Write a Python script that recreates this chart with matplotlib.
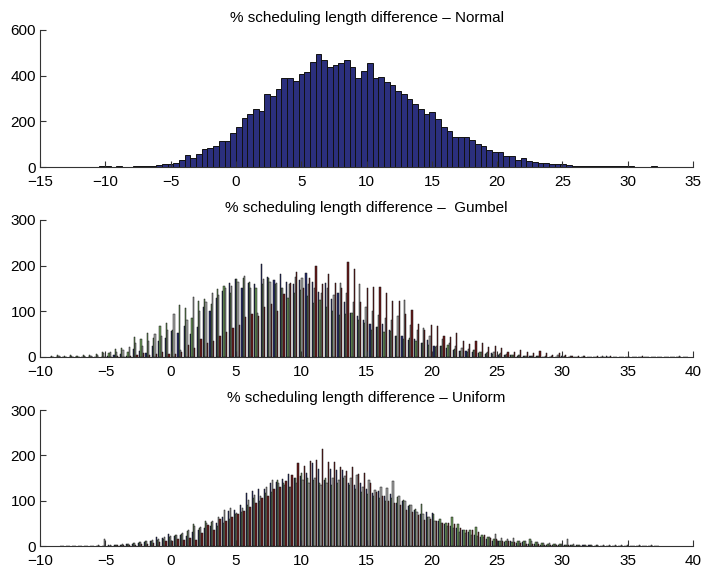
import numpy as np
import matplotlib
matplotlib.use("Agg")
import matplotlib.pyplot as plt

plt.rcParams['font.family'] = ['Liberation Sans', 'DejaVu Sans']

# --- Normal: single histogram, 100 bins ---
normal_start = -10.69
normal_width = 0.436
normal_counts = [0, 5, 5, 0, 3, 0, 2, 3, 3, 3, 6, 8, 12, 15, 18,
                 32, 52, 38, 58, 77, 84, 92, 116, 116, 148,
                 176, 215, 233, 255, 246, 319, 311, 343, 389, 389,
                 377, 409, 416, 461, 493, 467, 437, 448, 457, 467,
                 437, 389, 422, 454, 389, 396, 371, 357, 332, 319,
                 298, 277, 255, 233, 239, 210, 176, 156, 131, 131,
                 131, 119, 102, 90, 76, 64, 64, 47, 47, 29,
                 38, 26, 23, 17, 17, 12, 12, 12, 7,
                 3, 3, 3, 3, 3, 3, 3, 3, 3, 3, 3,
                 0, 0, 0, 5, 0]

# --- Gumbel: four series, 100 bins ---
gumbel_start = -9.1
gumbel_width = 0.49
gumbel_blue = [0, 0, 0, 0, 0, 0, 0, 0, 0, 2, 4, 6, 3,
               17, 13, 8, 23, 35, 42, 58, 52, 68, 50,
               65, 110, 100, 130, 145, 162, 170, 150, 163, 160,
               204, 175, 168, 182, 165, 160, 168, 183, 165, 142,
               162, 127, 140, 120, 97, 90, 82, 73, 65, 73,
               60, 47, 47, 38, 39, 30, 38, 23, 25, 20,
               16, 14, 13, 10, 8, 7, 9, 5, 5, 4,
               3, 3, 2, 2, 0, 1, 0, 2, 0, 1,
               0, 1, 0, 0, 2, 0, 0, 0, 0, 0, 0, 0, 0, 0, 0, 0, 0]
gumbel_green = [3, 4, 3, 5, 3, 4, 4, 6, 12, 8,
                18, 20, 10, 44, 40, 52, 42, 68, 75, 60,
                113, 107, 85, 123, 128, 115, 148, 155, 140, 170,
                172, 165, 150, 160, 173, 160, 150, 130, 140, 147,
                133, 118, 125, 110, 101, 92, 95, 96, 80, 74,
                59, 66, 55, 56, 45, 40, 41, 35, 30, 27,
                22, 24, 27, 18, 14, 12, 16, 10, 8, 6,
                7, 5, 4, 5, 3, 2, 2, 0, 1, 0,
                1, 0, 0, 0, 0, 0, 0, 0, 0, 0,
                0, 0, 0, 0, 0, 0, 0, 0, 0, 0]
gumbel_gray = [0, 2, 0, 2, 1, 2, 3, 5, 8, 12,
               10, 15, 22, 30, 25, 35, 50, 45, 60, 94,
               15, 80, 131, 100, 120, 140, 135, 150, 155, 165,
               178, 150, 97, 170, 165, 163, 150, 160, 175, 172,
               160, 150, 140, 150, 135, 163, 140, 120, 160, 110,
               100, 92, 85, 80, 90, 125, 70, 60, 63, 45,
               25, 40, 30, 25, 20, 18, 15, 12, 10, 12,
               8, 6, 5, 4, 3, 3, 2, 3, 2, 4,
               2, 2, 0, 3, 0, 0, 3, 0, 0, 0,
               0, 0, 0, 0, 0, 0, 0, 0, 3, 0]
gumbel_red = [0, 0, 0, 0, 0, 0, 0, 0, 0, 0,
              2, 0, 3, 5, 8, 5, 6, 10, 7, 6,
              10, 27, 20, 40, 30, 36, 45, 55, 63, 70,
              87, 95, 90, 110, 117, 100, 137, 163, 185, 150,
              172, 200, 160, 182, 163, 150, 207, 193, 120, 151,
              154, 154, 141, 122, 122, 95, 102, 73, 60, 70,
              67, 47, 44, 52, 34, 28, 36, 31, 22, 25,
              20, 12, 10, 15, 12, 8, 13, 8, 5, 8,
              4, 3, 2, 2, 0, 2, 0, 2, 0, 0,
              0, 0, 2, 0, 0, 0, 0, 0, 0, 0]

# --- Uniform: four series, 100 bins ---
uniform_start = -8.32
uniform_width = 0.46
uniform_blue = [0, 0, 0, 0, 0, 0, 0, 1, 2, 3,
                3, 4, 5, 6, 8, 12, 20, 18, 26, 22,
                25, 22, 30, 35, 40, 45, 50, 65, 78, 80,
                90, 118, 122, 126, 126, 139, 141, 148, 159, 150,
                154, 160, 183, 170, 145, 170, 168, 168, 140, 135,
                140, 125, 118, 122, 110, 115, 95, 100, 88, 79,
                70, 76, 73, 55, 48, 45, 40, 35, 30, 25,
                20, 15, 12, 10, 8, 10, 6, 8, 5, 4,
                3, 3, 2, 3, 2, 2, 3, 2, 2, 1,
                1, 0, 0, 0, 0, 0, 0, 0, 0, 0]
uniform_green = [0, 0, 0, 0, 0, 0, 0, 0, 1, 2,
                 3, 4, 6, 8, 12, 12, 14, 15, 20, 24,
                 27, 33, 48, 40, 55, 52, 45, 50, 60, 70,
                 75, 90, 106, 100, 118, 120, 145, 140, 130, 150,
                 161, 150, 145, 140, 150, 135, 140, 150, 135, 125,
                 120, 115, 110, 105, 100, 105, 109, 101, 90, 81,
                 93, 64, 70, 60, 51, 64, 48, 36, 36, 43,
                 24, 20, 15, 12, 10, 8, 10, 12, 15, 8,
                 6, 5, 4, 5, 3, 3, 2, 3, 2, 2,
                 0, 1, 0, 0, 0, 0, 0, 0, 0, 0]
uniform_gray = [1, 0, 1, 0, 1, 0, 2, 15, 2, 3,
                4, 5, 6, 8, 10, 14, 16, 20, 22, 25,
                28, 35, 45, 42, 50, 55, 65, 79, 84, 73,
                84, 101, 112, 110, 131, 145, 140, 135, 130, 140,
                145, 140, 150, 135, 140, 150, 145, 155, 150, 157,
                131, 146, 124, 131, 128, 144, 110, 100, 90, 76,
                70, 65, 55, 50, 45, 40, 30, 28, 25, 22,
                20, 20, 26, 17, 15, 17, 12, 12, 10, 8,
                7, 6, 5, 4, 15, 4, 3, 3, 3, 2,
                3, 2, 2, 2, 2, 0, 2, 0, 2, 0]
uniform_red = [0, 0, 0, 0, 0, 0, 0, 0, 1, 2,
               2, 3, 3, 4, 5, 6, 8, 10, 12, 15,
               14, 18, 14, 28, 47, 35, 60, 55, 65, 70,
               78, 85, 95, 105, 110, 125, 131, 143, 157, 184,
               177, 188, 190, 214, 186, 186, 175, 166, 174, 159,
               161, 140, 120, 110, 100, 95, 90, 80, 76, 68,
               57, 60, 55, 50, 51, 48, 40, 36, 36, 30,
               25, 18, 15, 12, 10, 8, 6, 5, 4, 4,
               3, 3, 2, 2, 2, 1, 0, 0, 0, 0,
               0, 0, 0, 0, 0, 0, 0, 0, 0, 0]

series_colors = ['#262c6b', '#6e9c5c', '#a8a8a8', '#6a1a1a']


def style_axis(ax, xlim, ylim, yticks):
    ax.set_xlim(*xlim)
    ax.set_ylim(*ylim)
    ax.set_xticks(np.arange(xlim[0], xlim[1] + 1, 5))
    ax.set_yticks(yticks)
    ax.spines['top'].set_visible(False)
    ax.spines['right'].set_visible(False)
    for s in ('left', 'bottom'):
        ax.spines[s].set_color('#333333')
        ax.spines[s].set_linewidth(0.8)
    ax.tick_params(direction='in', length=4, width=0.8, labelsize=11,
                   colors='#333333', labelcolor='black')
    ax.tick_params(axis='x', pad=6)
    ax.tick_params(axis='y', pad=3)


def grouped_hist(ax, start, width, series):
    centers = start + width * np.arange(len(series[0]))
    bw = width * 0.19
    for i, vals in enumerate(series):
        ax.bar(centers + (i - 1.5) * bw, vals, width=bw,
               color=series_colors[i], edgecolor='#151515', linewidth=0.35)


fig = plt.figure(figsize=(7.05, 5.69), dpi=100)
ax1 = fig.add_axes([0.057, 0.7065, 0.926, 0.2408])
ax2 = fig.add_axes([0.057, 0.3726, 0.926, 0.2408])
ax3 = fig.add_axes([0.057, 0.0404, 0.926, 0.2390])

normal_centers = normal_start + normal_width * np.arange(len(normal_counts))
ax1.bar(normal_centers, normal_counts, width=normal_width,
        color='#2b2f7d', edgecolor='#111111', linewidth=0.7)
style_axis(ax1, (-15, 35), (0, 600), [0, 200, 400, 600])
ax1.set_title('% scheduling length difference \u2013 Normal', fontsize=11, pad=6)

grouped_hist(ax2, gumbel_start, gumbel_width,
             [gumbel_blue, gumbel_green, gumbel_gray, gumbel_red])
style_axis(ax2, (-10, 40), (0, 300), [0, 100, 200, 300])
ax2.set_title('% scheduling length difference \u2013  Gumbel', fontsize=11, pad=6)

grouped_hist(ax3, uniform_start, uniform_width,
             [uniform_blue, uniform_green, uniform_gray, uniform_red])
style_axis(ax3, (-10, 40), (0, 300), [0, 100, 200, 300])
ax3.set_title('% scheduling length difference \u2013 Uniform', fontsize=11, pad=6)

fig.savefig('out.png', dpi=100)
